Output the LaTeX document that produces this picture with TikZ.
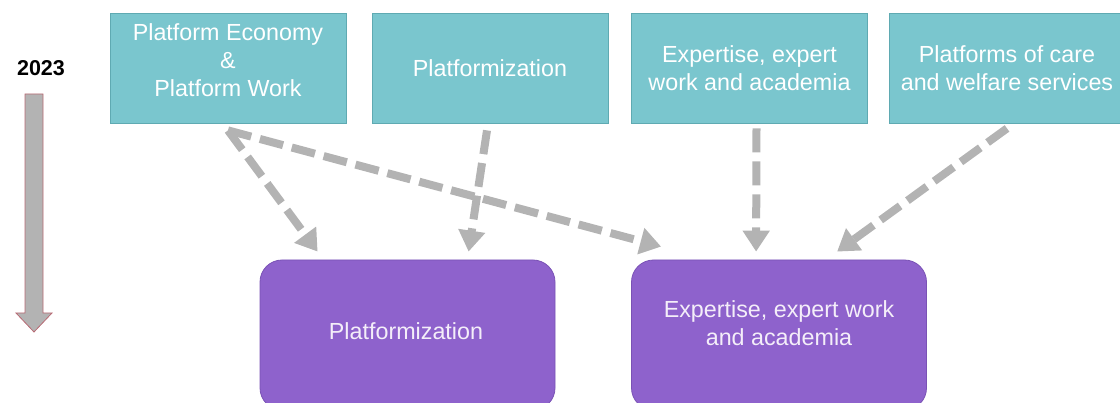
\documentclass[tikz,border=0pt]{standalone}
\usepackage{fontspec}
\setmainfont{Liberation Sans}
\usetikzlibrary{arrows.meta,calc}
\definecolor{tealfill}{HTML}{7AC6CE}
\definecolor{tealline}{HTML}{5FAAB2}
\definecolor{purfill}{HTML}{8E62CC}
\definecolor{purline}{HTML}{7A52B5}
\definecolor{arrgray}{HTML}{B3B3B3}
\definecolor{tlred}{HTML}{B86A74}
\definecolor{purtext}{HTML}{F4EEF9}
\begin{document}
\begin{tikzpicture}[x=1pt,y=-1pt,
  topbox/.style={draw=tealline, line width=0.8pt, fill=tealfill, minimum width=236pt, minimum height=110pt, inner sep=0pt},
  botbox/.style={draw=purline, line width=0.8pt, fill=purfill, rounded corners=22pt, minimum width=295pt, minimum height=150pt, inner sep=0pt},
  boxtext/.style={align=center, inner sep=0pt, font=\fontsize{23.3}{28}\selectfont},
  toptext/.style={boxtext, text=white},
  bottext/.style={boxtext, text=purtext},
  flow/.style={draw=arrgray, line width=8pt, dash pattern=on 24pt off 9pt, -{Triangle[width=26pt,length=21pt]}}]
\useasboundingbox (0,0) rectangle (1120,403);
% timeline
\node[font=\bfseries\fontsize{21.5}{24}\selectfont] (yr) at (41,68) {2023};
\filldraw[fill=arrgray, draw=tlred, line width=0.8pt] (25,94) -- (43,94) -- (43,313) -- (52,313) -- (34,332) -- (16,313) -- (25,313) -- cycle;
% top boxes
\node[topbox] (t1) at (228,68) {};
\node[topbox] (t2) at (490,68) {};
\node[topbox] (t3) at (749.5,68) {};
\node[topbox] (t4) at (1007,68) {};
\node[toptext] (t1txt) at (228,60) {Platform Economy\\\&\\Platform Work};
\node[toptext] (t2txt) at (490,68) {Platformization};
\node[toptext] (t3txt) at (749.5,68) {Expertise, expert\\work and academia};
\node[toptext] (t4txt) at (1007,68) {Platforms of care\\and welfare services};
% bottom boxes
\node[botbox] (p1) at (407.5,335) {};
\node[botbox] (p2) at (779,335) {};
\node[bottext] (p1txt) at (406,331) {Platformization};
\node[bottext] (p2txt) at (779,323) {Expertise, expert work\\and academia};
% connectors
\draw[flow] ($(t1.south)+(0,7)$) -- ($(p1.north west)+(58,-8)$);
\draw[flow] ($(t1.south)+(0,7)$) -- ($(p2.north west)+(30,-13)$);
\draw[flow] ($(t2.south)+(-3,7)$) -- ($(p1.north west)+(209,-8)$);
\draw[flow] ($(t3.south)+(7,5)$) -- ($(p2.north west)+(125,-8)$);
\draw[flow] ($(t4.south)+(0,5)$) -- ($(p2.north west)+(206,-8)$);
\end{tikzpicture}
\end{document}
